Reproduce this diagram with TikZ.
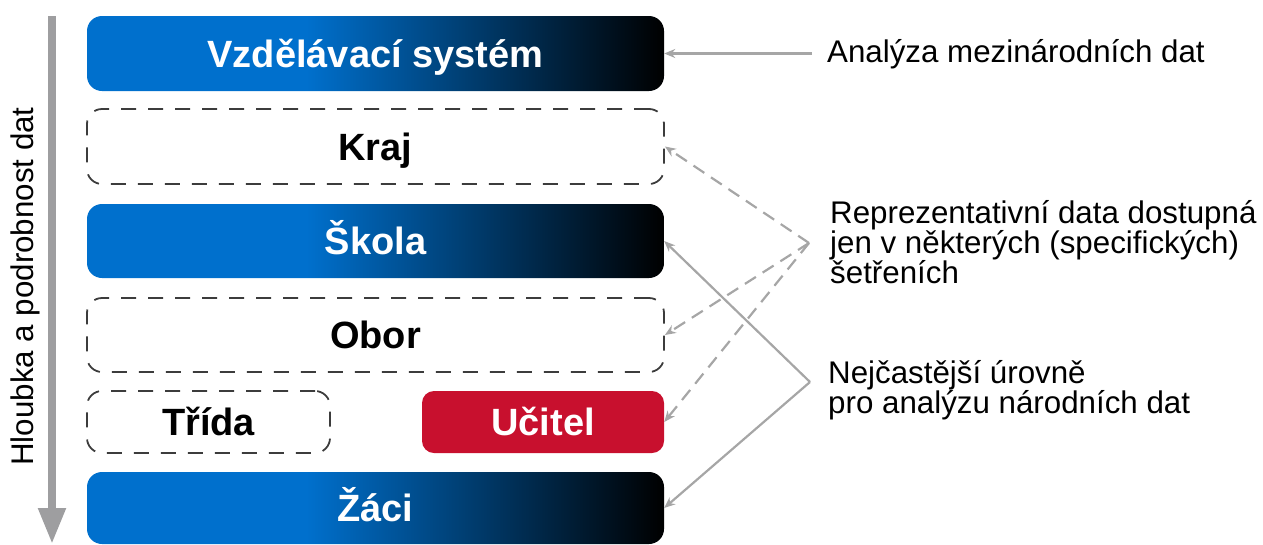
\documentclass[tikz,border=0pt]{standalone}
\usepackage{fontspec}
\setmainfont{Liberation Sans}
\usetikzlibrary{arrows.meta}
\definecolor{myblue}{RGB}{0,112,205}
\definecolor{myred}{RGB}{200,16,46}
\definecolor{linegray}{RGB}{166,166,166}
\definecolor{arrowgray}{RGB}{158,158,160}
\definecolor{dashgray}{RGB}{60,60,60}
\pgfdeclarehorizontalshading{bluefade}{100bp}{color(0bp)=(myblue); color(25bp)=(myblue); color(44bp)=(myblue); color(75bp)=(black); color(100bp)=(black)}
\tikzset{
  boxbase/.style={rounded corners=15pt, minimum width=577pt, minimum height=75pt, inner sep=0pt,
    text height=27pt, text depth=0pt, font=\fontsize{38}{40}\selectfont\bfseries},
  bluebox/.style={boxbase, shade, shading=bluefade, text=white},
  dashbox/.style={boxbase, draw=dashgray, line width=1.8pt, dash pattern=on 15pt off 12pt, text=black},
  redbox/.style={boxbase, rounded corners=12pt, fill=myred, text=white},
  conn/.style={draw=linegray, line width=2.2pt, -{Stealth[length=11pt,width=9pt]}},
  dconn/.style={conn, dash pattern=on 13pt off 8pt},
  lbl/.style={inner sep=0pt, anchor=base west, align=left, font=\fontsize{31.3}{30}\selectfont},
}
\begin{document}
\begin{tikzpicture}[x=1pt, y=-1pt]
\useasboundingbox (0,0) rectangle (1263,544);
% boxes
\node[bluebox] (sys) at (375.5,53.5) {Vzdělávací systém};
\node[dashbox] (kraj) at (375.5,146.5) {Kraj};
\node[bluebox, minimum height=74pt] (skola) at (375.5,241) {Škola};
\node[dashbox, minimum height=74pt] (obor) at (375.5,335) {Obor};
\node[dashbox, minimum width=243pt, minimum height=62pt] (trida) at (208.5,422) {Třída};
\node[redbox, minimum width=242pt, minimum height=62pt] (ucitel) at (543,422) {Učitel};
\node[bluebox, minimum height=72pt] (zaci) at (375.5,508) {Žáci};
% left arrow and label
\coordinate (la1) at (52,16);
\coordinate (la2) at (52,544);
\draw[draw=arrowgray, line width=8pt, -{Triangle[length=36pt,width=26pt]}] (la1) -- (la2);
\node[rotate=90, anchor=base, inner sep=0pt, font=\fontsize{31.3}{30}\selectfont] (hl) at (33,286.5) {Hloubka a podrobnost dat};
% right labels
\node[lbl] (ana) at (827,62) {Analýza mezinárodních dat};
\node[lbl] (rep) at (830,283) {Reprezentativní data dostupná\\jen v některých (specifických)\\šetřeních};
\node[lbl] (nej) at (828,413) {Nejčastější úrovně\\pro analýzu národních dat};
% connectors
\coordinate (a1) at (812,53.5);
\coordinate (rj) at (809,243);
\coordinate (nj) at (810,382);
\draw[conn] (a1) -- (sys.east);
\draw[dconn] (rj) -- (kraj.east);
\draw[dconn] (rj) -- (obor.east);
\draw[dconn] (rj) -- (ucitel.east);
\draw[conn] (nj) -- (skola.east);
\draw[conn] (nj) -- (zaci.east);
\end{tikzpicture}
\end{document}
